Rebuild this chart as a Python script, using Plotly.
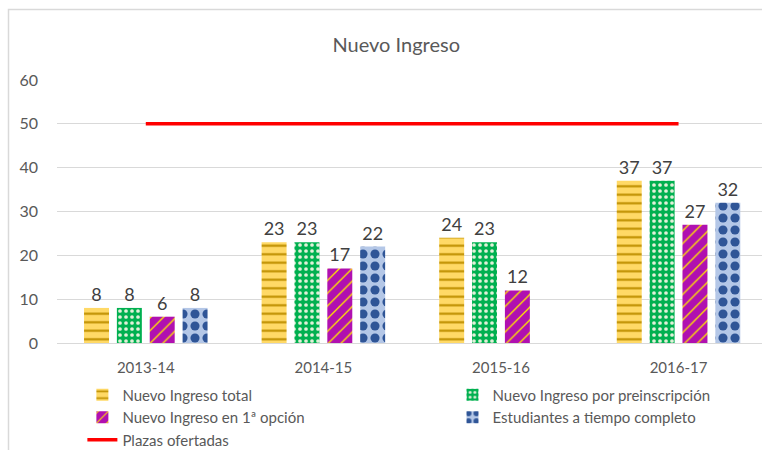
import plotly.graph_objects as go

categories = ["2013-14", "2014-15", "2015-16", "2016-17"]
total = [8, 23, 24, 37]
preinscripcion = [8, 23, 23, 37]
primera_opcion = [6, 17, 12, 27]
tiempo_completo = [8, 22, None, 32]
plazas = [50, 50, 50, 50]
y_ticks = [0, 10, 20, 30, 40, 50, 60]

FONT = "Lato"
LBL = dict(family=FONT, size=18, color="#404040")

fig = go.Figure()

def bar(name, vals, bg, fg, shape, size, solidity, legend):
    return go.Bar(
        x=categories, y=vals, name=name, legend=legend,
        marker=dict(color=bg, line=dict(width=0),
                    pattern=dict(shape=shape, bgcolor=bg, fgcolor=fg,
                                 size=size, solidity=solidity, fillmode="replace")),
        text=[("" if v is None else str(v)) for v in vals],
        textposition="outside", textfont=LBL, cliponaxis=False,
        hoverinfo="skip",
    )

fig.add_trace(bar("Nuevo Ingreso total", total, "#FFD966", "#BF9000", "-", 8.5, 0.25, "legend"))
fig.add_trace(bar("Nuevo Ingreso por preinscripción", preinscripcion, "#00B050", "#E2F0D9", ".", 6, 0.3, "legend2"))
fig.add_trace(bar("Nuevo Ingreso en 1ª opción", primera_opcion, "#B010B0", "#FFE600", "/", 9, 0.15, "legend"))
fig.add_trace(bar("Estudiantes a tiempo completo", tiempo_completo, "#B4C7E7", "#2F5597", ".", 12, 0.45, "legend2"))
fig.add_trace(go.Scatter(x=categories, y=plazas, name="Plazas ofertadas", mode="lines",
                         line=dict(color="#FF0000", width=3.5), legend="legend",
                         hoverinfo="skip"))

fig.update_layout(
    width=762, height=450,
    margin=dict(l=57, r=0, t=80, b=107, autoexpand=False),
    paper_bgcolor="white", plot_bgcolor="white",
    font=dict(family=FONT, color="#595959"),
    title=dict(text="Nuevo Ingreso", x=0.52, xref="container", xanchor="center",
               y=0.9, yref="container", yanchor="middle",
               font=dict(family=FONT, size=20, color="#595959")),
    barmode="group", bargap=0.26, bargroupgap=0.24,
    showlegend=True,
    legend=dict(orientation="v", x=0.036, xanchor="left", y=-0.135, yanchor="top",
                font=dict(family=FONT, size=15, color="#595959"),
                bgcolor="rgba(0,0,0,0)", traceorder="normal", tracegroupgap=0),
    legend2=dict(orientation="v", x=0.561, xanchor="left", y=-0.135, yanchor="top",
                 font=dict(family=FONT, size=15, color="#595959"),
                 bgcolor="rgba(0,0,0,0)", traceorder="normal", tracegroupgap=0),
    xaxis=dict(type="category", range=[-0.5, 3.47], showgrid=False,
               showline=False, zeroline=False, ticks="", automargin=False,
               tickfont=dict(family=FONT, size=15, color="#595959"),
               ticklabelstandoff=14),
    yaxis=dict(range=[0, 60], tickvals=y_ticks, showgrid=True, gridcolor="#D9D9D9",
               gridwidth=1, zeroline=True, zerolinecolor="#D9D9D9", zerolinewidth=1,
               showline=False, ticks="", automargin=False,
               tickfont=dict(family=FONT, size=16, color="#595959"),
               ticklabelstandoff=18),
    shapes=[dict(type="rect", xref="paper", yref="paper",
                 x0=(8.5 - 57) / 705, x1=1.05, y0=-0.5, y1=(343 - 9.5) / 263,
                 line=dict(color="#D9D9D9", width=1.5), fillcolor="rgba(0,0,0,0)",
                 layer="below")],
)

fig.write_html("out.html", config={"displayModeBar": False},
               post_script="document.body.style.margin='0';document.body.style.padding='0';")
